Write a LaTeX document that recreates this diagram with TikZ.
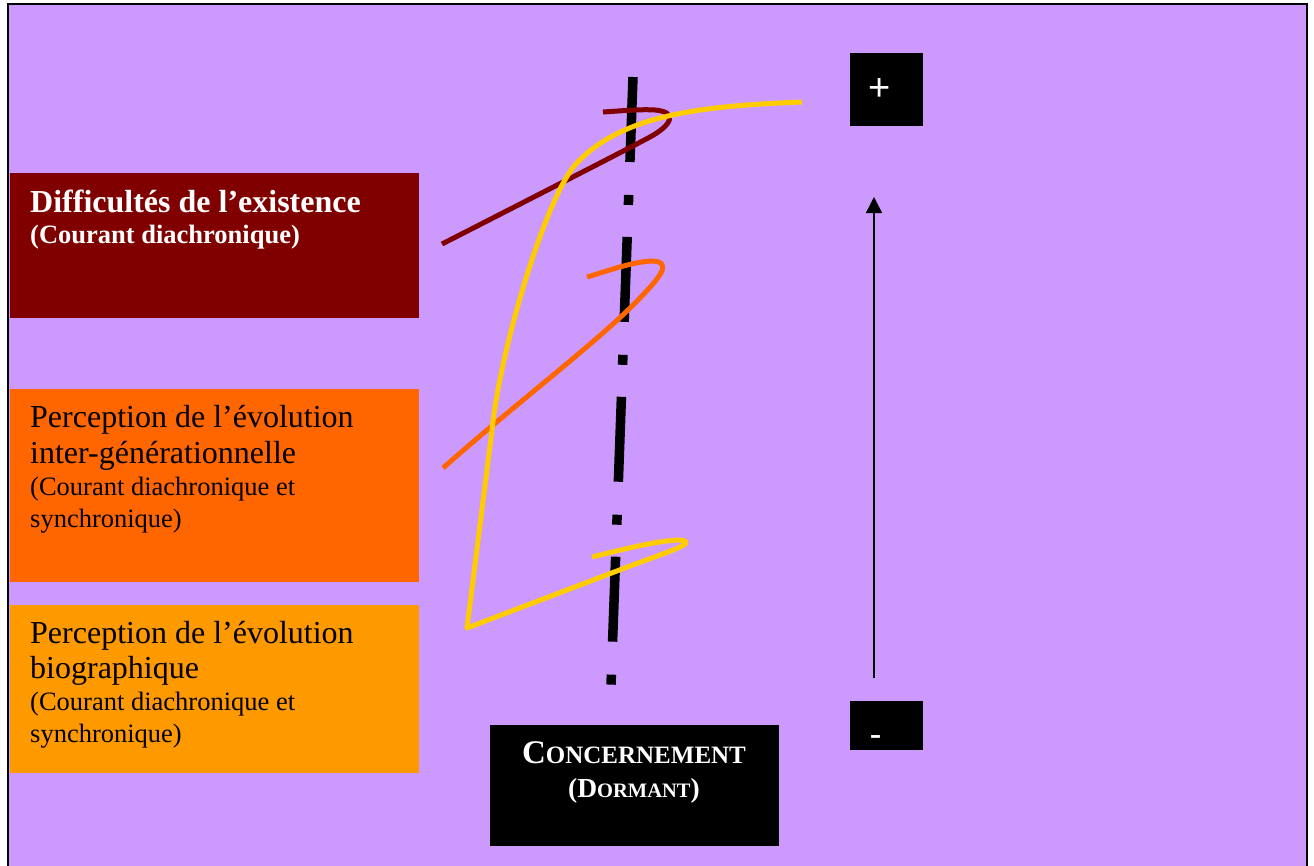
\documentclass[tikz,border=0pt]{standalone}
\usepackage{fontspec}
\setmainfont{Liberation Serif}
\newfontfamily\signfont{Liberation Sans}
\usetikzlibrary{arrows.meta,calc}

\definecolor{lilac}{HTML}{CC99FF}
\definecolor{maroon}{HTML}{800000}
\definecolor{blaze}{HTML}{FF6600}
\definecolor{amber}{HTML}{FF9900}
\definecolor{gold}{HTML}{FFCC00}

\tikzset{
  panel/.style={draw=none, rectangle, inner sep=0pt, anchor=north west},
  paneltext/.style={anchor=base west, inner sep=0pt, text width=385pt},
  curve/.style={line width=5pt, line cap=butt, line join=round},
  axisline/.style={line width=9.5pt, line cap=butt, dash pattern=on 85pt off 33pt on 10pt off 32pt},
}
% natural word spacing of the current font inside the panel texts
\newcommand\panelpar{\raggedright\spaceskip=0pt\xspaceskip=0pt\relax}

\begin{document}
\begin{tikzpicture}[x=1pt, y=-1pt]
  \useasboundingbox (0,0) rectangle (1314,865);
  \fill[white] (0,0) rectangle (1314,865);
  % outer frame
  \begin{scope}
    \clip (0,0) rectangle (1314,865);
    \draw[line width=2pt, fill=lilac] (8,4) rectangle (1307,880);
  \end{scope}

  % coloured panels on the left
  \node[panel, fill=maroon, minimum width=409pt, minimum height=145pt] (diff) at (10,173) {};
  \node[panel, fill=blaze, minimum width=409pt, minimum height=193pt] (inter) at (10,389) {};
  \node[panel, fill=amber, minimum width=409pt, minimum height=168pt] (bio) at (10,605) {};

  \node[paneltext, text=white] (difftext) at (30,212)
    {\panelpar
     {\fontsize{32}{31}\selectfont\bfseries Difficultés de l’existence\par}
     {\fontsize{26.5}{31}\selectfont\bfseries (Courant diachronique)\par}};
  \node[paneltext] (intertext) at (30,427)
    {\panelpar
     {\fontsize{32}{36}\selectfont Perception de l’évolution\\ inter-générationnelle\par}
     {\fontsize{26.5}{32}\selectfont (Courant diachronique et\\ synchronique)\par}};
  \node[paneltext] (biotext) at (30,643)
    {\panelpar
     {\fontsize{32}{35}\selectfont Perception de l’évolution\\ biographique\par}
     {\fontsize{26.5}{32}\selectfont (Courant diachronique et\\ synchronique)\par}};

  % concern box
  \node[panel, fill=black, minimum width=289pt, minimum height=121pt] (concern) at (490,725) {};
  \node[anchor=base, inner sep=0pt, text=white, font=\bfseries] (concernA) at (634,763)
    {{\fontsize{33}{36}\selectfont C}{\fontsize{25}{36}\selectfont ONCERNEMENT}};
  \node[anchor=base, inner sep=0pt, text=white, font=\bfseries] (concernB) at (634,797)
    {{\fontsize{27.5}{30}\selectfont (D}{\fontsize{20.5}{30}\selectfont ORMANT}{\fontsize{27.5}{30}\selectfont )}};

  % plus / minus scale
  \node[panel, fill=black, minimum width=73pt, minimum height=73pt] (plus) at (850,53) {};
  \node[panel, fill=black, minimum width=73pt, minimum height=49pt] (minus) at (850,701) {};
  \node[anchor=base, inner sep=0pt, text=white, font=\signfont\fontsize{38}{40}\selectfont] (plussign) at (880,100) {+};
  \node[anchor=base, inner sep=0pt, text=white, font=\signfont\fontsize{36}{40}\selectfont] (minussign) at (875.5,746) {-};

  \coordinate (arrowlow) at (874,678);
  \coordinate (arrowhigh) at (874,197);
  \draw[line width=1.5pt, -{Triangle[length=16pt, width=16pt]}] (arrowlow) -- (arrowhigh);

  % dash-dot axis
  \coordinate (axistop) at (633,77);
  \coordinate (axisbottom) at (611,685);
  \draw[axisline] (axistop) -- (axisbottom);

  % hand-drawn curves
  \draw[curve, maroon] (442,244) .. controls (530,199) and (620,153) .. (650,137)
    .. controls (672,125) and (678,112) .. (655,110)
    .. controls (640,109) and (620,111) .. (603,112);
  \draw[curve, blaze] (443,468) .. controls (520,400) and (600,340) .. (640,298)
    .. controls (662,275) and (672,262) .. (652,261)
    .. controls (630,262) and (605,272) .. (587,277);
  \draw[curve, gold] (802,102) .. controls (700,106) and (620,115) .. (575,165)
    .. controls (545,200) and (500,350) .. (492,430)
    -- (467,628) -- (630,566)
    .. controls (670,551) and (700,542) .. (680,540)
    .. controls (660,540) and (620,550) .. (592,557);
\end{tikzpicture}
\end{document}
